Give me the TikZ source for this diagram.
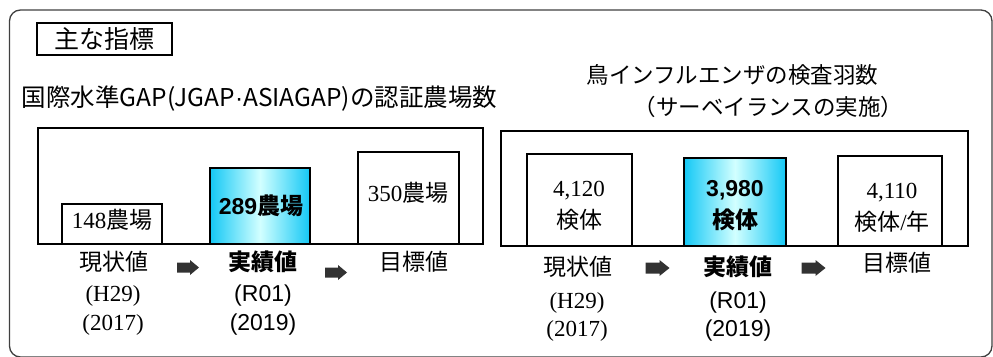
\documentclass[tikz,border=0pt]{standalone}
\usepackage{fontspec}
\newfontfamily\jp{Noto Sans CJK JP}
\newfontfamily\srf{Liberation Serif}
\newfontfamily\sns{Liberation Sans}
\definecolor{cy}{RGB}{20,200,245}
\definecolor{pale}{RGB}{210,255,255}
\definecolor{framec}{RGB}{64,64,64}
\definecolor{arrc}{RGB}{50,50,50}
\begin{document}
\begin{tikzpicture}[x=1pt,y=-1pt,
 txt/.style={inner sep=0pt, text height=0.88em, text depth=0.12em, font=\fontsize{23}{28}\selectfont\jp},
 hd/.style={inner sep=0pt, text height=0.88em, text depth=0.12em, font=\fontsize{22.5}{26}\selectfont\jp},
 bx/.style={draw=black, line width=1.6pt, fill=white, inner sep=0pt},
 gbx/.style={draw=black, line width=1.6pt, left color=cy, right color=cy, middle color=pale, inner sep=0pt},
 blk/.style={fill=arrc, draw=none}]
\useasboundingbox (0,0) rectangle (993,356);
% outer frame
\draw[framec, line width=1.3pt, rounded corners=11pt] (9.5,10) rectangle (992,357);
% title
\node[draw=black, line width=1.3pt, minimum width=135pt, minimum height=32pt, inner sep=0pt,
  font=\fontsize{25}{30}\selectfont\jp] (title) at (104.5,39) {主な指標};

% ---------- left panel ----------
\node[hd, font=\fontsize{24.5}{28}\selectfont\jp] (lh) at (259.5,103) {国際水準GAP(JGAP{\sns ·}ASIAGAP)の認証農場数};
\node[bx, minimum width=445pt, minimum height=116pt] (lbig) at (260.5,186) {};
\node[bx, minimum width=100pt, minimum height=40pt] (lb1) at (112,224) {};
\node[gbx, minimum width=100pt, minimum height=76pt] (lb2) at (260,206) {};
\node[bx, minimum width=101pt, minimum height=92pt] (lb3) at (408.5,198) {};
\node[txt] (lt1) at (112,225) {{\srf 148}農場};
\node[txt, font=\fontsize{23}{28}\selectfont\jp\bfseries] (lt2) at (261,211) {{\sns\bfseries 289}農場};
\node[txt] (lt3) at (408,198) {{\srf 350}農場};

\node[txt] (ll1) at (114,267) {現状値};
\node[txt] (ll2) at (113,298) {\srf (H29)};
\node[txt] (ll3) at (113,327) {\srf (2017)};
\fill[blk, shift={(188,267.5)}] (-11,-5) -- (2,-5) -- (2,-7.5) -- (11,0) -- (2,7.5) -- (2,5) -- (-11,5) -- cycle;
\node[txt, font=\fontsize{23}{28}\selectfont\jp\bfseries] (lm1) at (263,267) {実績値};
\node[txt] (lm2) at (263,298) {\sns (R01)};
\node[txt] (lm3) at (263,327) {\sns (2019)};
\fill[blk, shift={(336,272.5)}] (-11,-5) -- (2,-5) -- (2,-7.5) -- (11,0) -- (2,7.5) -- (2,5) -- (-11,5) -- cycle;
\node[txt] (lr1) at (414,267) {目標値};

% ---------- right panel ----------
\node[hd] (rh1) at (732.5,80) {鳥インフルエンザの検査羽数};
\node[hd] (rh2) at (768.5,112) {（サーベイランスの実施）};
\node[bx, minimum width=467pt, minimum height=115pt] (rbig) at (734.5,188.5) {};
\node[bx, minimum width=105pt, minimum height=92pt] (rb1) at (579.5,200) {};
\node[gbx, minimum width=102pt, minimum height=88pt] (rb2) at (735,202) {};
\node[bx, minimum width=104pt, minimum height=90pt] (rb3) at (890,201) {};
\node[txt] (rt1a) at (579,193) {\srf 4,120};
\node[txt] (rt1b) at (579,225) {検体};
\node[txt] (rt2a) at (735,193) {\sns\bfseries 3,980};
\node[txt, font=\fontsize{23}{28}\selectfont\jp\bfseries] (rt2b) at (735,225) {検体};
\node[txt] (rt3a) at (892,195) {\srf 4,110};
\node[txt] (rt3b) at (892,227) {検体{\srf /}年};

\node[txt] (rl1) at (578,272) {現状値};
\node[txt] (rl2) at (577,305) {\srf (H29)};
\node[txt] (rl3) at (577,333) {\srf (2017)};
\fill[blk, shift={(657.5,268)}] (-12,-5.5) -- (2,-5.5) -- (2,-8) -- (12,0) -- (2,8) -- (2,5.5) -- (-12,5.5) -- cycle;
\node[txt, font=\fontsize{23}{28}\selectfont\jp\bfseries] (rm1) at (738,272) {実績値};
\node[txt] (rm2) at (738,305) {\sns (R01)};
\node[txt] (rm3) at (738,333) {\sns (2019)};
\fill[blk, shift={(813.5,268)}] (-12,-5.5) -- (2,-5.5) -- (2,-8) -- (12,0) -- (2,8) -- (2,5.5) -- (-12,5.5) -- cycle;
\node[txt] (rr1) at (897,268) {目標値};
\end{tikzpicture}
\end{document}
